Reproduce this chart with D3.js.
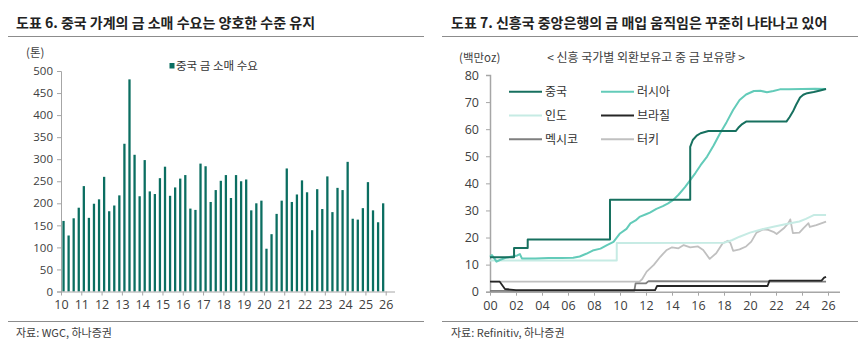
<!DOCTYPE html>
<html>
<head>
<meta charset="utf-8">
<script src="https://cdn.jsdelivr.net/npm/d3@7"></script>
<style>
  html, body { margin: 0; padding: 0; background: #fff; }
  svg { display: block; font-family: "Noto Sans CJK KR", "Noto Sans", sans-serif; }
</style>
</head>
<body>
<svg id="chart" width="858" height="343"></svg>
<script>
// ---- Left panel: China household retail gold demand (quarterly, tonnes) ----
const retailYears = d3.range(10, 27);            // x-axis year labels 10..26
const retailQuarters = d3.range(2010, 2026).flatMap(y => [1, 2, 3, 4].map(q => `${y}Q${q}`));
const retailDemand = [
  160, 127, 166, 190, 239, 167, 199, 209,
  260, 182, 195, 218, 335, 481, 310, 216,
  298, 227, 221, 257, 283, 217, 236, 256,
  264, 188, 185, 290, 284, 203, 230, 251,
  264, 212, 264, 250, 254, 184, 200, 206,
   97, 130, 176, 206, 279, 203, 220, 252,
  225, 139, 232, 187, 261, 180, 235, 230,
  294, 165, 163, 189, 248, 184, 157, 200
];
const retailTicks = d3.range(0, 501, 50);

// ---- Right panel: EM central bank gold holdings (million oz) ----
const holdingsTicksY = d3.range(0, 81, 10);
const holdingsTicksX = d3.range(2000, 2027, 2);
const china = [
  [2000, 12.7], [2001.85, 12.7], [2001.85, 16.1], [2002.9, 16.1], [2002.9, 19.3],
  [2009.23, 19.3], [2009.23, 33.9], [2015.4, 33.9], [2015.4, 53.5], [2015.6, 56.0],
  [2015.9, 57.6], [2016.2, 58.5], [2016.8, 59.3], [2018.9, 59.3], [2019.1, 60.5],
  [2019.4, 61.9], [2019.7, 62.8], [2022.8, 62.8], [2023.05, 64.5], [2023.3, 66.5],
  [2023.55, 69.0], [2023.85, 71.7], [2024.1, 72.7], [2024.4, 73.3], [2024.9, 73.7],
  [2025.4, 74.3], [2025.85, 74.8]
];
const russia = [
  [2000, 12.9], [2000.15, 13.5], [2000.35, 12.2], [2000.5, 11.1], [2000.8, 11.8],
  [2001.2, 12.5], [2001.8, 13.1], [2002.1, 13.4], [2002.3, 13.9], [2002.45, 12.3],
  [2003.5, 12.3], [2004.5, 12.4], [2005.5, 12.4], [2006.4, 12.5], [2006.9, 13.0],
  [2007.4, 14.0], [2007.9, 15.2], [2008.5, 15.9], [2009.0, 17.2], [2009.5, 18.4],
  [2010.0, 21.5], [2010.5, 23.2], [2010.8, 25.2], [2011.2, 26.3], [2011.5, 27.6],
  [2012.0, 28.6], [2012.3, 29.2], [2012.8, 30.6], [2013.3, 31.6], [2013.7, 32.6],
  [2014.1, 33.9], [2014.5, 35.8], [2015.0, 38.6], [2015.4, 41.2], [2015.8, 43.8],
  [2016.2, 46.7], [2016.7, 49.9], [2017.2, 54.0], [2017.7, 58.5], [2018.2, 62.6],
  [2018.7, 67.1], [2019.2, 70.8], [2019.7, 72.8], [2020.3, 74.1], [2020.8, 74.2],
  [2021.3, 73.6], [2021.8, 74.1], [2022.3, 74.7], [2023.0, 74.7], [2024.0, 74.8],
  [2025.0, 74.9], [2025.85, 74.8]
];
const india = [
  [2000, 11.5], [2009.75, 11.5], [2009.75, 18.0], [2018.0, 18.1], [2018.6, 19.0],
  [2019.2, 20.3], [2020.0, 21.8], [2020.8, 22.9], [2021.8, 24.0], [2022.8, 25.0],
  [2023.8, 25.9], [2024.3, 26.9], [2024.9, 28.3], [2025.85, 28.3]
];
const brazil = [
  [2000, 3.7], [2000.75, 3.7], [2001.15, 1.0], [2002.0, 0.6], [2012.7, 0.6],
  [2012.85, 2.1], [2021.35, 2.1], [2021.5, 4.1], [2025.5, 4.1], [2025.7, 5.2],
  [2025.85, 5.5]
];
const mexico = [
  [2000, 0.3], [2011.1, 0.3], [2011.2, 3.1], [2012.0, 3.1], [2012.2, 3.9],
  [2018.0, 3.8], [2025.85, 3.7]
];
const turkey = [
  [2000, 3.7], [2011.5, 3.7], [2011.7, 4.6], [2012.05, 7.4], [2012.6, 9.9],
  [2013.1, 12.9], [2013.6, 15.4], [2014.0, 16.4], [2014.5, 16.0], [2014.9, 17.2],
  [2015.4, 16.4], [2016.0, 16.7], [2016.4, 15.4], [2016.9, 12.1], [2017.4, 14.2],
  [2017.9, 17.9], [2018.3, 18.8], [2018.5, 17.9], [2018.7, 15.1], [2019.2, 15.6],
  [2019.7, 16.7], [2020.1, 18.5], [2020.5, 21.8], [2021.0, 23.0], [2021.4, 22.8],
  [2021.8, 22.1], [2022.05, 21.3], [2022.6, 23.4], [2022.95, 25.3], [2023.1, 26.7],
  [2023.3, 21.6], [2023.8, 21.8], [2024.1, 23.4], [2024.5, 25.3], [2024.6, 23.9],
  [2025.1, 24.6], [2025.85, 25.9]
];

const seriesNames = ["중국", "러시아", "인도", "브라질", "멕시코", "터키"];
const seriesData = [china, russia, india, brazil, mexico, turkey];
const seriesColors = ["#17705f", "#63cbb9", "#c6ebe4", "#262626", "#7f7f7f", "#c0c0c0"];
const seriesWidths = [2, 2, 2, 1.8, 1.8, 1.8];

const svg = d3.select("#chart");
const axisColor = "#a6a6a6";
const textColor = "#404040";

// ---- Panel frames: titles, rules, sources ----
function panelFrame(x0, x1, title, source, textX) {
  svg.append("text").attr("x", textX).attr("y", 28)
    .attr("font-size", 14).attr("font-weight", "bold").attr("fill", "#222")
    .text(title);
  svg.append("line").attr("x1", x0).attr("x2", x1).attr("y1", 36.5).attr("y2", 36.5)
    .attr("stroke", "#8c8c8c").attr("stroke-width", 1);
  svg.append("line").attr("x1", x0).attr("x2", x1).attr("y1", 321.5).attr("y2", 321.5)
    .attr("stroke", "#8c8c8c").attr("stroke-width", 1);
  svg.append("text").attr("x", textX).attr("y", 337)
    .attr("font-size", 11).attr("fill", textColor).text(source);
}
panelFrame(8, 424, "도표 6. 중국 가계의 금 소매 수요는 양호한 수준 유지", "자료: WGC, 하나증권", 16);
panelFrame(442, 858, "도표 7. 신흥국 중앙은행의 금 매입 움직임은 꾸준히 나타나고 있어", "자료: Refinitiv, 하나증권", 451);

// ---- Left panel drawing ----
const L = svg.append("g");
const xYear = d3.scaleLinear().domain([2010, 2026]).range([61, 385.7]);
const xBand = d3.scaleBand().domain(retailQuarters).range([61, 385.7]).paddingInner(0.55).paddingOuter(0.275);
const yL = d3.scaleLinear().domain([0, 500]).range([291.5, 71]);

L.selectAll("rect.bar").data(retailDemand).join("rect")
  .attr("class", "bar")
  .attr("x", (d, i) => xBand(retailQuarters[i]))
  .attr("width", xBand.bandwidth())
  .attr("y", d => yL(d))
  .attr("height", d => yL(0) - yL(d))
  .attr("fill", "#0b6e61");

const yAxisL = L.append("g").attr("transform", "translate(61,0)")
  .call(d3.axisLeft(yL).tickValues(retailTicks).tickSize(4).tickPadding(4));
const xAxisL = L.append("g").attr("transform", `translate(0,${yL(0)})`)
  .call(d3.axisBottom(xYear).tickValues(retailYears.map(y => 2000 + y)).tickSize(4).tickPadding(5)
    .tickFormat(d => String(d - 2000)).tickSizeOuter(0));
xAxisL.select(".domain").attr("d", `M61,0.5H395`);

[yAxisL, xAxisL].forEach(a => {
  a.select(".domain").attr("stroke", axisColor);
  a.selectAll(".tick line").attr("stroke", axisColor);
  a.selectAll(".tick text").attr("fill", textColor).attr("font-family", "'Open Sans', 'Noto Sans', sans-serif");
});
yAxisL.selectAll(".tick text").attr("font-size", 11.5);
xAxisL.selectAll(".tick text").attr("font-size", 12.5);

L.append("text").attr("x", 26).attr("y", 57).attr("font-size", 11.5).attr("fill", textColor).text("(톤)");
L.append("rect").attr("x", 169.5).attr("y", 63).attr("width", 5).attr("height", 5.5).attr("fill", "#0b6e61");
L.append("text").attr("x", 176).attr("y", 69.5).attr("font-size", 11.5).attr("fill", "#333").text("중국 금 소매 수요");

// ---- Right panel drawing ----
const R = svg.append("g");
const xR = d3.scaleLinear().domain([2000, 2026]).range([490, 828]);
const yR = d3.scaleLinear().domain([0, 80]).range([291.7, 75]);

const yAxisR = R.append("g").attr("transform", "translate(490,0)")
  .call(d3.axisLeft(yR).tickValues(holdingsTicksY).tickSize(4).tickPadding(7));
const xAxisR = R.append("g").attr("transform", `translate(0,${yR(0)})`)
  .call(d3.axisBottom(xR).tickValues(holdingsTicksX).tickSize(4).tickPadding(5)
    .tickFormat(d => String(d % 100).padStart(2, "0")).tickSizeOuter(0));
xAxisR.select(".domain").attr("d", `M490,0.5H840`);

[yAxisR, xAxisR].forEach(a => {
  a.select(".domain").attr("stroke", axisColor).attr("stroke-width", 1.5);
  a.selectAll(".tick line").attr("stroke", axisColor);
  a.selectAll(".tick text").attr("fill", textColor).attr("font-size", 12.5)
    .attr("font-family", "'Open Sans', 'Noto Sans', sans-serif");
});

const line = d3.line().x(d => xR(d[0])).y(d => yR(d[1]));
// Draw back-to-front so the main series sit on top
[5, 4, 2, 3, 1, 0].forEach(i => {
  R.append("path").datum(seriesData[i])
    .attr("d", line)
    .attr("fill", "none")
    .attr("stroke", seriesColors[i])
    .attr("stroke-width", seriesWidths[i])
    .attr("stroke-linejoin", "round");
});

R.append("text").attr("x", 459).attr("y", 62).attr("font-size", 11.5).attr("fill", textColor).text("(백만oz)");
R.append("text").attr("x", 646).attr("y", 62).attr("text-anchor", "middle").attr("font-size", 12)
  .attr("fill", textColor).text("< 신흥 국가별 외환보유고 중 금 보유량 >");

// Legend: two columns, three rows
seriesNames.forEach((name, i) => {
  const col = i % 2, row = Math.floor(i / 2);
  const lx = 509 + col * 92, ly = 91.7 + row * 23.8;
  R.append("line").attr("x1", lx).attr("x2", lx + 33).attr("y1", ly).attr("y2", ly)
    .attr("stroke", seriesColors[i]).attr("stroke-width", 2);
  R.append("text").attr("x", lx + 36).attr("y", ly + 4.5).attr("font-size", 12)
    .attr("fill", "#333").text(name);
});
</script>
</body>
</html>
